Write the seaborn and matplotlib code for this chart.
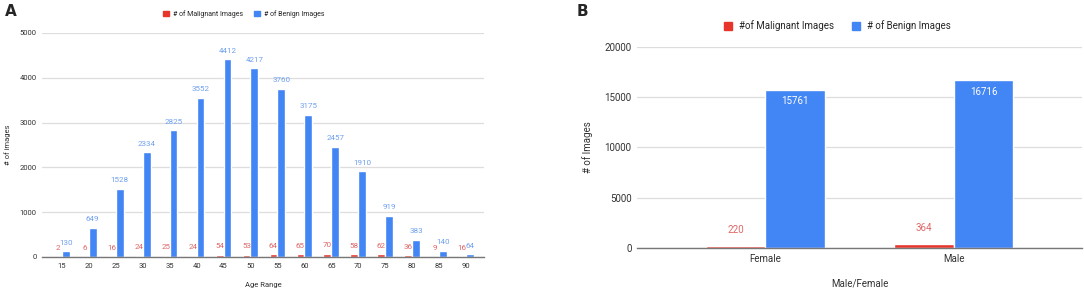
import pandas as pd
import seaborn as sns
import matplotlib.pyplot as plt
from matplotlib.patches import Patch

# data
ages = ["15", "20", "25", "30", "35", "40", "45", "50", "55", "60", "65", "70", "75", "80", "85", "90"]
age_malignant = [2, 6, 16, 24, 25, 24, 54, 53, 64, 65, 70, 58, 62, 36, 9, 16]
age_benign = [130, 649, 1528, 2334, 2825, 3552, 4412, 4217, 3760, 3175, 2457, 1910, 919, 383, 140, 64]

sexes = ["Female", "Male"]
sex_malignant = [220, 364]
sex_benign = [15761, 16716]

RED = "#E8352B"
BLUE = "#4285F4"
RED_TXT = "#E06666"
BLUE_TXT = "#6FA0F0"

sns.set_theme(style="white")
plt.rcParams["font.family"] = ["Roboto", "DejaVu Sans"]

age_df = pd.DataFrame({
    "age": ages * 2,
    "count": age_malignant + age_benign,
    "type": ["mal"] * len(ages) + ["ben"] * len(ages),
})
sex_df = pd.DataFrame({
    "sex": sexes * 2,
    "count": sex_malignant + sex_benign,
    "type": ["mal"] * len(sexes) + ["ben"] * len(sexes),
})

fig = plt.figure(figsize=(10.84, 2.93), dpi=100)
axA = fig.add_axes([0.0387, 0.1229, 0.4078, 0.7645])
axB = fig.add_axes([0.5877, 0.1536, 0.4105, 0.6860])

pal = {"mal": RED, "ben": BLUE}


def style_ax(ax, fs):
    for s in ["top", "left", "right"]:
        ax.spines[s].set_visible(False)
    ax.spines["bottom"].set_color("#777777")
    ax.spines["bottom"].set_linewidth(1.0)
    ax.grid(axis="y", color="#dddddd", linewidth=0.9)
    ax.set_axisbelow(True)
    ax.tick_params(axis="both", length=0, labelsize=fs, colors="#333333", pad=4)


# panel A
sns.barplot(data=age_df, x="age", y="count", hue="type", palette=pal,
            width=0.58, ax=axA, legend=False, saturation=1)
axA.set_ylim(0, 5000)
axA.set_yticks([0, 1000, 2000, 3000, 4000, 5000])
axA.set_xlim(-0.74, 15.67)
style_ax(axA, 5.5)
axA.set_xlabel("Age Range", fontsize=5.5, color="#333333", labelpad=10)
axA.set_ylabel("# of images", fontsize=5.5, color="#333333", labelpad=6)
axA.bar_label(axA.containers[0], fontsize=5.8, color=RED_TXT, padding=4)
axA.bar_label(axA.containers[1], fontsize=5.8, color=BLUE_TXT, padding=4)
hA = [Patch(color=RED), Patch(color=BLUE)]
axA.legend(hA, ["# of Malignant Images", "# of Benign Images"], loc="lower center",
           bbox_to_anchor=(0.457, 1.04), ncol=2, frameon=False, fontsize=5,
           handlelength=0.8, handleheight=0.8, columnspacing=1.6, handletextpad=0.6)
fig.text(0.005, 0.945, "A", fontsize=11, fontweight="bold", family="DejaVu Sans")

# panel B
sns.barplot(data=sex_df, x="sex", y="count", hue="type", palette=pal,
            width=0.63, ax=axB, legend=False, saturation=1)
axB.set_ylim(0, 20000)
axB.set_yticks([0, 5000, 10000, 15000, 20000])
axB.set_xlim(-0.68, 1.68)
style_ax(axB, 7)
axB.set_xlabel("Male/Female", fontsize=7, color="#333333", labelpad=11)
axB.set_ylabel("# of Images", fontsize=7, color="#333333", labelpad=8)
axB.bar_label(axB.containers[0], fontsize=7, color=RED_TXT, padding=8)
axB.bar_label(axB.containers[1], fontsize=7, color="white", padding=-12)
hB = [Patch(color=RED), Patch(color=BLUE)]
axB.legend(hB, ["#of Malignant Images", "# of Benign Images"], loc="lower center",
           bbox_to_anchor=(0.45, 1.035), ncol=2, frameon=False, fontsize=7,
           handlelength=0.9, handleheight=0.9, columnspacing=1.8, handletextpad=0.7)
fig.text(0.532, 0.945, "B", fontsize=11, fontweight="bold", family="DejaVu Sans")

fig.savefig("out.png", dpi=100)
